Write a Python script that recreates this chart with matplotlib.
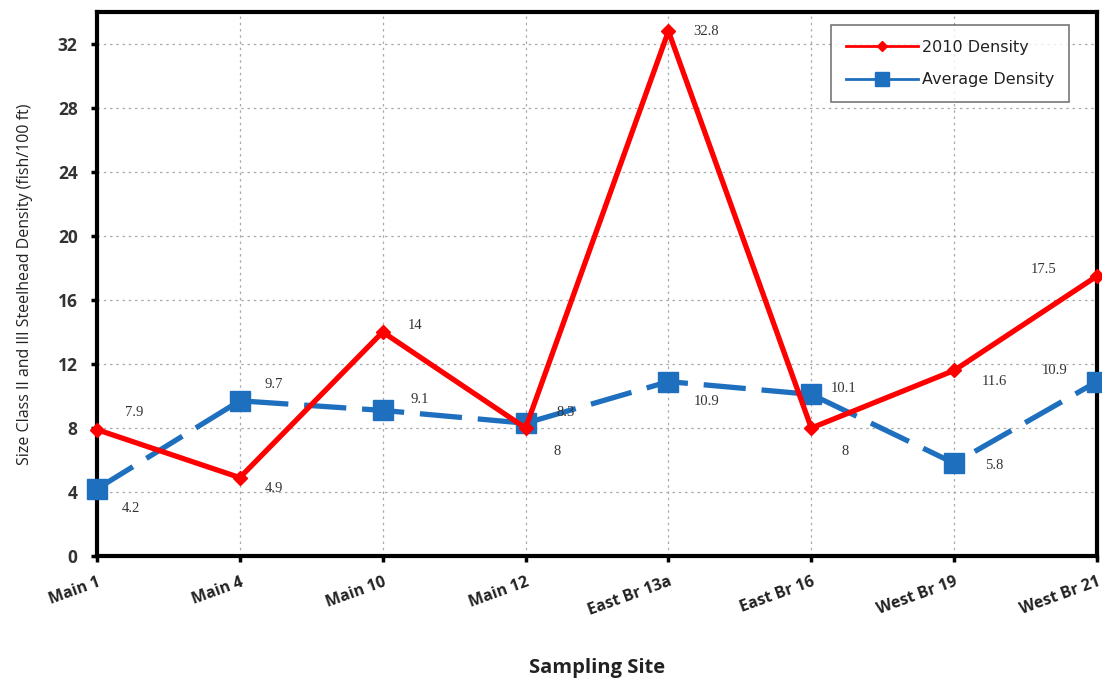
import matplotlib.pyplot as plt
import numpy as np

sites = ['Main 1', 'Main 4', 'Main 10', 'Main 12', 'East Br 13a',
         'East Br 16', 'West Br 19', 'West Br 21']
density_2010 = [7.9, 4.9, 14, 8, 32.8, 8, 11.6, 17.5]
density_avg = [4.2, 9.7, 9.1, 8.3, 10.9, 10.1, 5.8, 10.9]
labels_2010 = ['7.9', '4.9', '14', '8', '32.8', '8', '11.6', '17.5']
labels_avg = ['4.2', '9.7', '9.1', '8.3', '10.9', '10.1', '5.8', '10.9']

# label offsets in points
off_2010 = [(20, 12), (18, -8), (18, 5), (20, -17), (18, 0), (22, -17), (20, -8), (-48, 5)]
off_avg = [(18, -14), (18, 12), (20, 8), (22, 8), (18, -14), (14, 4), (22, -2), (-40, 8)]

fig = plt.figure(figsize=(11.02, 6.89), dpi=100)
ax = fig.add_axes([0.088, 0.193, 0.9075, 0.7896])

x = np.arange(len(sites))
ax.plot(x, density_2010, color='#ff0000', lw=3.8, marker='D', ms=7,
        label='2010 Density', clip_on=False, zorder=4)
ax.plot(x, density_avg, color='#1f6fbf', lw=3.8, ls=(0, (8, 3)), marker='s', ms=14,
        label='Average Density', clip_on=False, zorder=3)

for i in range(len(sites)):
    ax.annotate(labels_2010[i], (x[i], density_2010[i]), xytext=off_2010[i],
                textcoords='offset points', fontsize=10.5, family='Liberation Serif',
                color='#333333', va='center')
    ax.annotate(labels_avg[i], (x[i], density_avg[i]), xytext=off_avg[i],
                textcoords='offset points', fontsize=10.5, family='Liberation Serif',
                color='#333333', va='center')

ax.set_xlim(0, 7)
ax.set_ylim(0, 34)
ax.set_yticks(range(0, 33, 4))
ax.set_xticks(x)
ax.set_xticklabels(sites, rotation=20, ha='right', rotation_mode='anchor',
                   fontsize=11.5, fontweight='bold', family='Open Sans', color='#222222')
for t in ax.get_yticklabels():
    t.set_fontsize(12.5)
    t.set_fontweight('bold')
    t.set_family('Open Sans')
    t.set_color('#333333')
ax.tick_params(axis='both', direction='out', length=4, width=2.5, color='black')
ax.tick_params(axis='y', pad=10)
ax.tick_params(axis='x', pad=9)
ax.grid(True, ls=(0, (2, 3)), color='#aaaaaa', lw=0.9)
for s in ax.spines.values():
    s.set_linewidth(3)

ax.set_xlabel('Sampling Site', fontsize=14.5, fontweight='bold', family='Open Sans',
              color='#222222', labelpad=28)
ax.set_ylabel('Size Class II and III Steelhead Density (fish/100 ft)', fontsize=11.5,
              family='Open Sans', color='#222222', labelpad=18)

leg = ax.legend(loc='upper right', bbox_to_anchor=(0.98, 0.99), fancybox=False,
                edgecolor='#555555', fontsize=11.5, handlelength=4.5, borderpad=0.9,
                labelspacing=1.1, handletextpad=0.3)
leg.get_frame().set_linewidth(1.2)
for h in leg.legend_handles:
    h.set_linewidth(2)
    h.set_linestyle('-')
    h.set_markersize(h.get_markersize() * 0.7)
for t in leg.get_texts():
    t.set_color('#222222')

fig.savefig('out.png', dpi=100)
